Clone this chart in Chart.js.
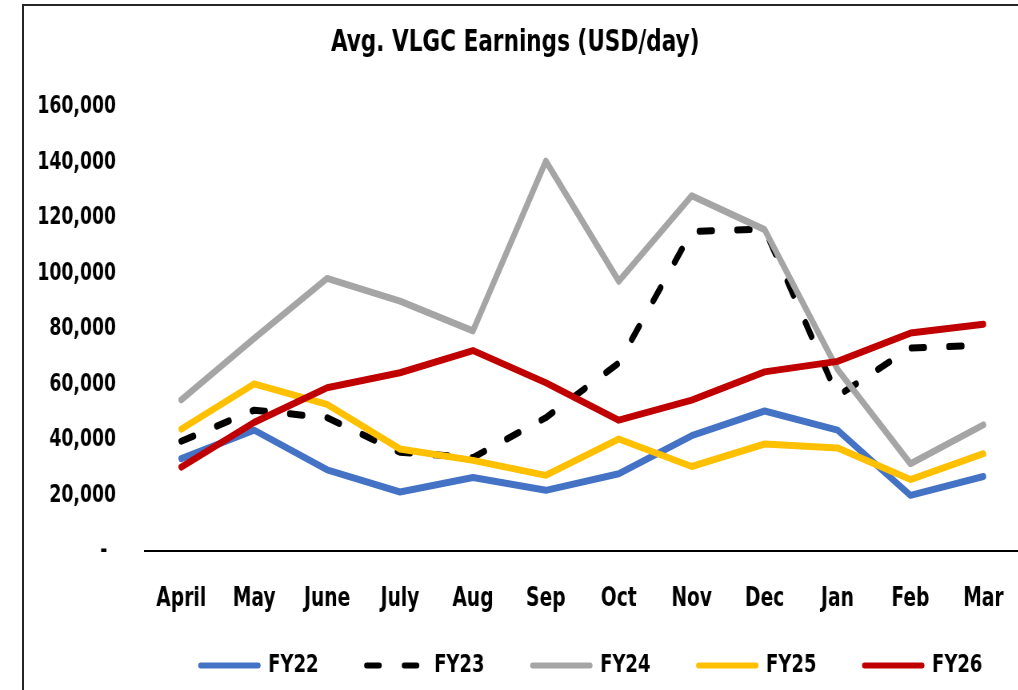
<!DOCTYPE html>
<html>
<head>
<meta charset="utf-8">
<script src="https://cdn.jsdelivr.net/npm/chart.js@4"></script>
<style>
  html, body { margin: 0; padding: 0; background: #fff; overflow: hidden; }
  #frame { position: absolute; left: 22px; top: 4px; width: 1200px; height: 900px; border: 2px solid #262626; }
  /* the source picture is squeezed sideways, so the chart is drawn wide and narrowed */
  #wrap { position: absolute; left: 0; top: 0; width: 1288px; height: 690px; transform: scaleX(0.8); transform-origin: 0 0; }
</style>
</head>
<body>
<div id="frame"></div>
<div id="wrap"><canvas id="vlgcChart" width="1288" height="690"></canvas></div>
<script>
// months of the fiscal year
const months = ['April', 'May', 'June', 'July', 'Aug', 'Sep', 'Oct', 'Nov', 'Dec', 'Jan', 'Feb', 'Mar'];

// avg earnings, USD/day
const fy22 = [33200, 43500, 29200, 21200, 26400, 21800, 27800, 41500, 50400, 43500, 20000, 26800];
const fy23 = [39500, 50700, 48000, 35500, 33600, 48000, 67700, 115100, 116000, 55800, 73100, 74100];
const fy24 = [54400, 76600, 98200, 90000, 79300, 140500, 97200, 128000, 115800, 65400, 31400, 45400];
const fy25 = [43900, 60200, 52800, 36700, 32600, 27200, 40300, 30400, 38500, 37100, 25700, 35000];
const fy26 = [30200, 46300, 58800, 64200, 72200, 60600, 47100, 54300, 64500, 68300, 78500, 81700];

const yTicks = [0, 20000, 40000, 60000, 80000, 100000, 120000, 140000, 160000];

const fontFamily = "'DejaVu Sans Condensed', 'DejaVu Sans', sans-serif";

function series(label, data, color, order, dash) {
    return {
        label: label,
        data: data,
        borderColor: color,
        backgroundColor: color,
        borderWidth: 7,
        borderDash: dash || [],
        borderCapStyle: 'round',
        borderJoinStyle: 'round',
        pointRadius: 0,
        pointHoverRadius: 0,
        tension: 0,
        fill: false,
        order: order
    };
}

// pull the legend up so it sits closer to the month labels
const legendLift = {
    id: 'legendLift',
    afterLayout(chart) {
        chart.legend.top -= 55;
        chart.legend.bottom -= 55;
    }
};

const ctx = document.getElementById('vlgcChart').getContext('2d');
const vlgcChart = new Chart(ctx, {
    type: 'line',
    data: {
        labels: months,
        datasets: [
            series('FY22', fy22, '#4472C4', 4),
            series('FY23', fy23, '#000000', 3, [16, 31]),
            series('FY24', fy24, '#A5A5A5', 2),
            series('FY25', fy25, '#FFC000', 1),
            series('FY26', fy26, '#C00000', 0)
        ]
    },
    options: {
        responsive: false,
        animation: false,
        layout: {
            padding: { left: 0, right: 0, top: 0, bottom: -53 }
        },
        plugins: {
            title: {
                display: true,
                text: 'Avg. VLGC Earnings (USD/day)',
                color: '#000',
                font: { family: fontFamily, size: 30, weight: 'bold' },
                padding: { top: 25, bottom: 46 }
            },
            legend: {
                position: 'bottom',
                align: 'end',
                labels: {
                    color: '#000',
                    font: { family: fontFamily, size: 25, weight: 'bold' },
                    usePointStyle: true,
                    pointStyle: 'line',
                    pointStyleWidth: 72,
                    padding: 60,
                    sort: (a, b) => a.datasetIndex - b.datasetIndex,
                    generateLabels: (chart) => {
                        const items = Chart.defaults.plugins.legend.labels.generateLabels(chart);
                        return items.map(item => {
                            const ds = chart.data.datasets[item.datasetIndex];
                            item.strokeStyle = ds.borderColor;
                            item.lineWidth = 6;
                            item.lineDash = ds.borderDash;
                            item.lineCap = 'round';
                            return item;
                        });
                    }
                }
            },
            tooltip: { enabled: false }
        },
        scales: {
            x: {
                offset: true,
                grid: { display: false, drawTicks: false },
                border: { display: true, color: '#000', width: 2 },
                ticks: {
                    color: '#000',
                    font: { family: fontFamily, size: 26, weight: 'bold' },
                    padding: 33,
                    maxRotation: 0,
                    autoSkip: false
                }
            },
            y: {
                min: 0,
                max: 160000,
                afterFit: (scale) => { scale.width = 181; },
                afterBuildTicks: (scale) => { scale.ticks = yTicks.map(v => ({ value: v })); },
                grid: { display: false, drawTicks: false },
                border: { display: false },
                ticks: {
                    color: '#000',
                    font: { family: fontFamily, size: 24, weight: 'bold' },
                    padding: 36,
                    callback: (v) => v === 0 ? '-\u2002' : v.toLocaleString('en-US')
                }
            },
            yR: {
                type: 'linear',
                axis: 'y',
                position: 'right',
                afterFit: (scale) => { scale.width = 11; },
                grid: { display: false, drawTicks: false },
                border: { display: false },
                ticks: { display: false }
            }
        }
    },
    plugins: [legendLift]
});
</script>
</body>
</html>
